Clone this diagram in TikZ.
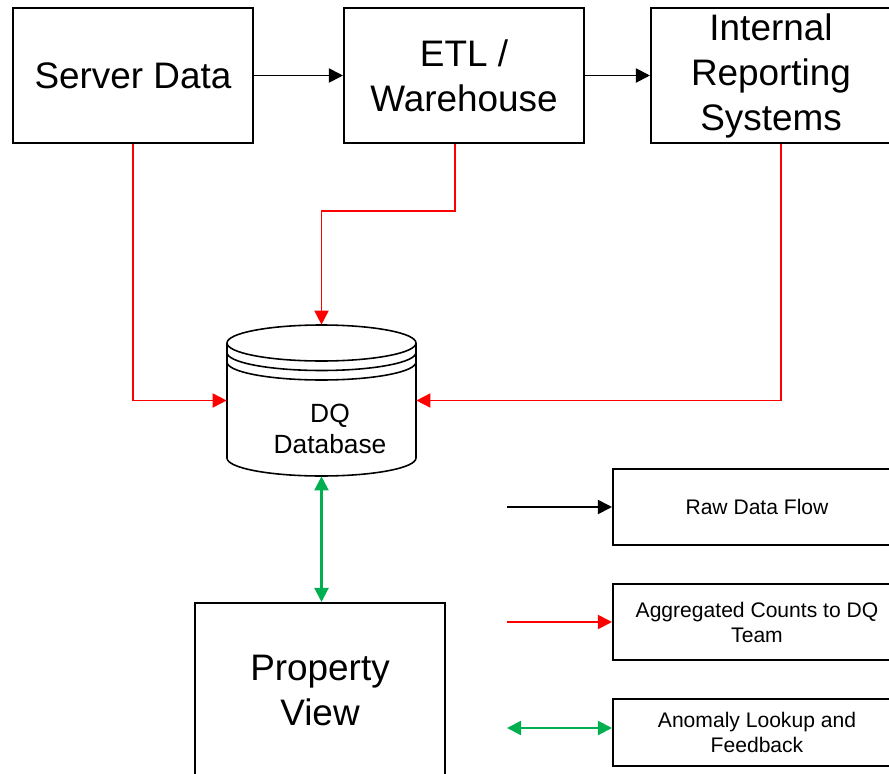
\documentclass[tikz,border=0pt]{standalone}
\usepackage{fontspec}
\setmainfont{Liberation Sans}
\usepackage{xcolor}
\usetikzlibrary{arrows.meta}

\definecolor{dqgreen}{RGB}{0,176,80}

\begin{document}
\begin{tikzpicture}[x=0.02cm,y=-0.02cm,
		box/.style={draw,line width=1.2pt,inner sep=1pt,minimum width=4.8cm,minimum height=2.7cm,align=center,font=\fontsize{21}{25.6}\selectfont},
		legbox/.style={draw,line width=1.2pt,minimum width=5.76cm,align=center,font=\fontsize{12}{14.2}\selectfont},
		flow/.style={line width=1.1pt,-{Triangle[length=8pt,width=8pt]}},
		agg/.style={red,line width=1pt,-{Triangle[length=8pt,width=8pt]}},
		fb/.style={dqgreen,line width=1.2pt,{Triangle[length=8pt,width=8pt]}-{Triangle[length=8pt,width=8pt]}}]
		\useasboundingbox (0,0) rectangle (889,774);
		\clip (0,0) rectangle (889,774);
		\node[box] (srv) at (133,75.5) {Server Data};
		\node[box] (etl) at (464,75.5) {ETL /\\Warehouse};
		\node[box] (irs) at (771,75.5) {Internal\\Reporting\\Systems};
		\node[box,minimum width=5cm,minimum height=3.5cm] (pv) at (320,690.5) {Property\\View};
		% database
		\node[minimum width=3.78cm,minimum height=3.02cm,inner sep=0pt] (db) at (321.5,400.5) {};
		\draw[line width=0.9pt] (321.5,343) ellipse [x radius=1.89cm,y radius=0.36cm];
		\draw[line width=0.9pt] (227,352.5) arc [start angle=180,end angle=360,x radius=1.89cm,y radius=0.36cm];
		\draw[line width=0.9pt] (227,362) arc [start angle=180,end angle=360,x radius=1.89cm,y radius=0.36cm];
		\draw[line width=0.9pt] (227,343) -- (227,458) arc [start angle=180,end angle=360,x radius=1.89cm,y radius=0.36cm] -- (416,343);
		\node[align=center,font=\fontsize{15}{17.6}\selectfont] (dbtxt) at (330,429) {DQ\\Database};
		\draw[flow] (srv) -- (etl);
		\draw[flow] (etl) -- (irs);
		\draw[agg] (srv.south) |- (db.west);
		\draw[agg] ([xshift=-0.18cm]etl.south) -- ++(0,67) -| (db.north);
		\draw[agg] ([xshift=0.2cm]irs.south) |- (db.east);
		\draw[fb] (db.south) -- (db.south |- pv.north);
		% legend
		\node[legbox,minimum height=1.52cm] (raw) at (757,507) {Raw Data Flow};
		\node[legbox,minimum height=1.52cm] (aggr) at (757,622) {Aggregated Counts to DQ\\Team};
		\node[legbox,minimum height=1.34cm] (anom) at (757,732.5) {Anomaly Lookup and\\Feedback};
		\coordinate (k1) at (507,507);
		\coordinate (k2) at (507,622);
		\coordinate (k3) at (507,728);
		\draw[flow] (k1) -- (k1 -| raw.west);
		\draw[agg] (k2) -- (k2 -| aggr.west);
		\draw[fb] (k3) -- (k3 -| anom.west);
	\end{tikzpicture}
\end{document}
